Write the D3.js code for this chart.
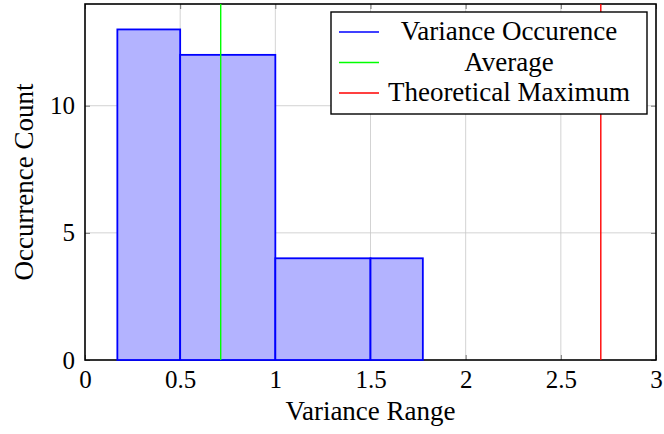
<!DOCTYPE html>
<html>
<head>
<meta charset="utf-8">
<script src="https://cdn.jsdelivr.net/npm/d3@7"></script>
<style>
  body { margin: 0; background: #fff; }
  text { font-family: "Liberation Serif", "DejaVu Serif", serif; fill: #000; }
</style>
</head>
<body>
<script>
// histogram bins: [start, end] and count
const binStarts = [0.17, 0.5, 1.0, 1.5]
const binEnds = [0.5, 1.0, 1.5, 1.775]
const binCounts = [13, 12, 4, 4]
const averageValue = 0.713
const theoreticalMax = 2.71
const xTicks = [0, 0.5, 1, 1.5, 2, 2.5, 3]
const yTicks = [0, 5, 10]
const legendLabels = ['Variance Occurence', 'Average', 'Theoretical Maximum']
const legendColors = ['#0000ff', '#00ff00', '#ff0000']

const width = 664, height = 434
const margin = { left: 85, right: 8, top: 4, bottom: 74 }

const svg = d3.select('body').append('svg')
    .attr('width', width)
    .attr('height', height)

const x = d3.scaleLinear().domain([0, 3]).range([margin.left, width - margin.right])
const y = d3.scaleLinear().domain([0, 14]).range([height - margin.bottom, margin.top])

// grid
svg.append('g').selectAll('line').data(xTicks.slice(1, -1)).join('line')
    .attr('x1', d => x(d)).attr('x2', d => x(d))
    .attr('y1', y(0)).attr('y2', y(14))
    .attr('stroke', '#c8c8c8').attr('stroke-width', 0.8)
svg.append('g').selectAll('line').data(yTicks.slice(1)).join('line')
    .attr('x1', x(0)).attr('x2', x(3))
    .attr('y1', d => y(d)).attr('y2', d => y(d))
    .attr('stroke', '#c8c8c8').attr('stroke-width', 0.8)

// axes (ticks inside, pgfplots style)
const xAxis = svg.append('g').attr('transform', `translate(0,${y(0)})`)
    .call(d3.axisBottom(x).tickValues(xTicks).tickFormat(d3.format('')).tickSize(-5).tickPadding(10))
const xAxisTop = svg.append('g').attr('transform', `translate(0,${y(14)})`)
    .call(d3.axisTop(x).tickValues(xTicks).tickFormat('').tickSize(-5))
const yAxis = svg.append('g').attr('transform', `translate(${x(0)},0)`)
    .call(d3.axisLeft(y).tickValues(yTicks).tickSize(-5).tickPadding(10))
const yAxisRight = svg.append('g').attr('transform', `translate(${x(3)},0)`)
    .call(d3.axisRight(y).tickValues(yTicks).tickFormat('').tickSize(-5))

for (const g of [xAxis, xAxisTop, yAxis, yAxisRight]) {
    g.select('.domain').remove()
    g.selectAll('.tick line').attr('stroke', '#555').attr('stroke-width', 0.8)
    g.selectAll('text').attr('font-size', 25).attr('font-family', '"Liberation Serif", serif')
}

// frame
svg.append('rect')
    .attr('x', x(0)).attr('y', y(14))
    .attr('width', x(3) - x(0)).attr('height', y(0) - y(14))
    .attr('fill', 'none').attr('stroke', '#000').attr('stroke-width', 1.6)

// bars
const bins = binStarts.map((s, i) => ({ s, e: binEnds[i], c: binCounts[i] }))
svg.append('g').selectAll('rect').data(bins).join('rect')
    .attr('x', d => x(d.s))
    .attr('y', d => y(d.c))
    .attr('width', d => x(d.e) - x(d.s))
    .attr('height', d => y(0) - y(d.c))
    .attr('fill', '#b3b3ff')
    .attr('stroke', '#0000ff')
    .attr('stroke-width', 1.8)

// average and max lines
svg.append('line')
    .attr('x1', x(averageValue)).attr('x2', x(averageValue))
    .attr('y1', y(0)).attr('y2', y(14))
    .attr('stroke', '#00ff00').attr('stroke-width', 1.4)
svg.append('line')
    .attr('x1', x(theoreticalMax)).attr('x2', x(theoreticalMax))
    .attr('y1', y(0)).attr('y2', y(14))
    .attr('stroke', '#ff0000').attr('stroke-width', 1.4)

// axis labels
svg.append('text')
    .attr('x', (x(0) + x(3)) / 2).attr('y', 420)
    .attr('text-anchor', 'middle').attr('font-size', 27)
    .text('Variance Range')
svg.append('text')
    .attr('transform', `translate(33,${(y(0) + y(14)) / 2}) rotate(-90)`)
    .attr('text-anchor', 'middle').attr('font-size', 27)
    .text('Occurrence Count')

// legend
const legend = svg.append('g')
legend.append('rect')
    .attr('x', 331).attr('y', 12).attr('width', 316).attr('height', 102)
    .attr('fill', '#fff').attr('stroke', '#000').attr('stroke-width', 1.4)
legendLabels.forEach((label, i) => {
    const ly = 32 + i * 30.5
    legend.append('line')
        .attr('x1', 339).attr('x2', 379).attr('y1', ly).attr('y2', ly)
        .attr('stroke', legendColors[i]).attr('stroke-width', 1.4)
    legend.append('text')
        .attr('x', 509).attr('y', ly + 8)
        .attr('text-anchor', 'middle').attr('font-size', 27)
        .text(label)
})
</script>
</body>
</html>
